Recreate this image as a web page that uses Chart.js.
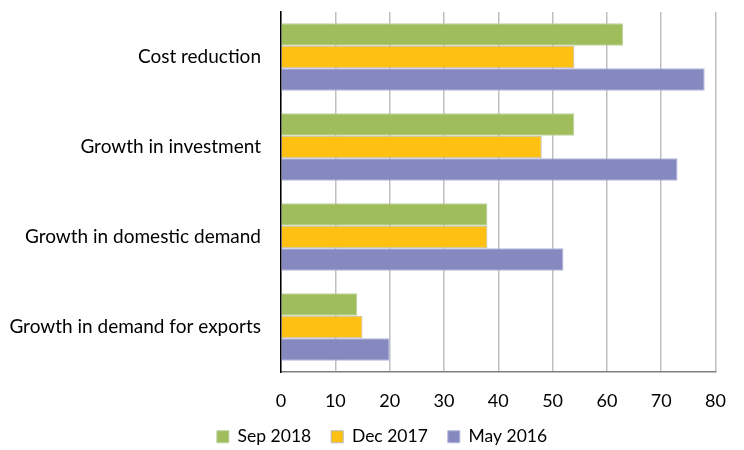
<!DOCTYPE html>
<html>
<head>
<meta charset="utf-8">
<script src="https://cdn.jsdelivr.net/npm/chart.js@4/dist/chart.umd.min.js"></script>
<style>
  html, body { margin: 0; padding: 0; background: #fff; }
  #wrap { width: 744px; height: 450px; }
</style>
</head>
<body>
<div id="wrap"><canvas id="chart" width="744" height="450"></canvas></div>
<script>
// categories and series
const categories = ['Cost reduction', 'Growth in investment', 'Growth in domestic demand', 'Growth in demand for exports'];
const sep2018 = [63, 54, 38, 14];
const dec2017 = [54, 48, 38, 15];
const may2016 = [78, 73, 52, 20];
const seriesNames = ['Sep 2018', 'Dec 2017', 'May 2016'];
const xTicks = [0, 10, 20, 30, 40, 50, 60, 70, 80];

const FONT = 'Lato, Carlito, Calibri, sans-serif';

// nudge the legend a little to the right, like the original
const legendShift = {
  id: 'legendShift',
  afterLayout(chart) {
    if (chart.legend) chart.legend.left += 20;
  }
};

new Chart(document.getElementById('chart'), {
  type: 'bar',
  data: {
    labels: categories,
    datasets: [
      { label: seriesNames[0], data: sep2018, backgroundColor: '#9FBD5B', borderColor: '#BDD0A0', borderWidth: 1 },
      { label: seriesNames[1], data: dec2017, backgroundColor: '#FDC013', borderColor: '#B8B8B8', borderWidth: 1 },
      { label: seriesNames[2], data: may2016, backgroundColor: '#8589C0', borderColor: '#B4B7DC', borderWidth: 1 }
    ]
  },
  plugins: [legendShift],
  options: {
    indexAxis: 'y',
    responsive: false,
    animation: false,
    layout: { padding: { top: 12, right: 0, bottom: 0, left: 0 } },
    datasets: { bar: { categoryPercentage: 0.75, barPercentage: 1 } },
    scales: {
      x: {
        min: 0, max: 80,
        afterBuildTicks(s) { s.ticks = xTicks.map(v => ({ value: v })); },
        afterFit(s) { s.height = 36; },
        grid: { color: '#BFBFBF', lineWidth: 1.5, drawTicks: false },
        border: { display: true, color: '#7F7F7F', width: 1.5 },
        ticks: { color: '#000', padding: 18, font: { family: FONT, size: 18 } }
      },
      y: {
        afterFit(s) { s.width = 281; },
        // the gap between labels and axis comes from an invisible tick mark
        grid: { display: false, drawTicks: true, tickLength: 20, tickColor: 'rgba(0,0,0,0)' },
        border: { display: true, color: '#000', width: 1.5 },
        ticks: { color: '#000', padding: 0, font: { family: FONT, size: 19 } }
      }
    },
    plugins: {
      tooltip: { enabled: false },
      legend: {
        position: 'bottom',
        maxHeight: 42,
        labels: {
          color: '#000',
          boxWidth: 12, boxHeight: 12,
          padding: 20,
          font: { family: FONT, size: 17.5 }
        }
      }
    }
  }
});
</script>
</body>
</html>
